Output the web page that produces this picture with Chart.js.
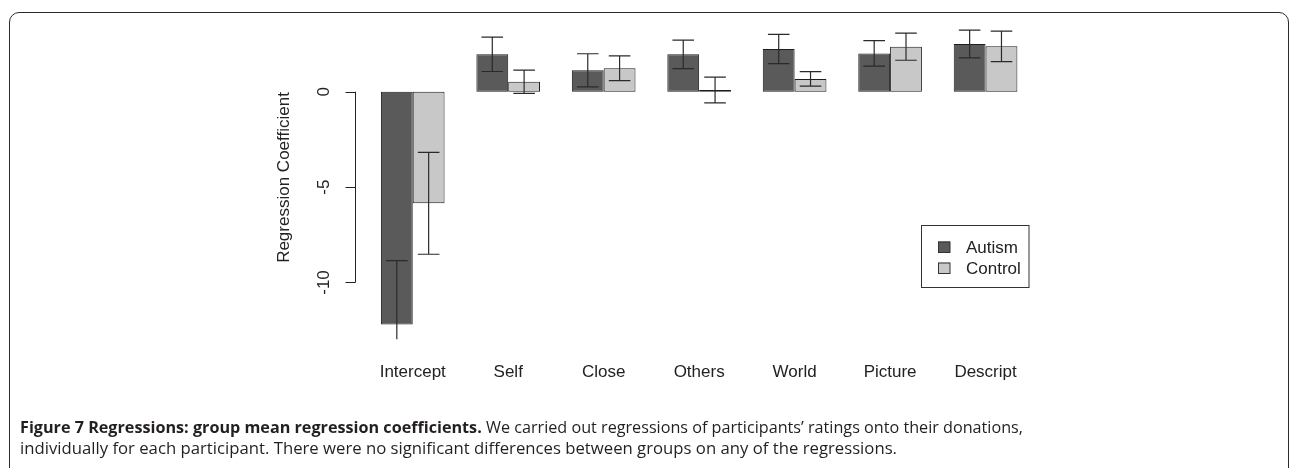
<!DOCTYPE html>
<html>
<head>
<meta charset="utf-8">
<script src="https://cdn.jsdelivr.net/npm/chart.js@4/dist/chart.umd.min.js"></script>
<style>
  html, body { margin:0; padding:0; background:#fff; width:1295px; height:468px; overflow:hidden; }
  #wrap { position:relative; width:1295px; height:468px; }
  #c { position:absolute; left:0; top:0; }
  #frame { position:absolute; left:9px; top:12px; width:1280px; height:520px; border:1.5px solid #2b2b2b; border-radius:10px; box-sizing:border-box; }
  .cap { position:absolute; left:20px; white-space:nowrap; font-family:"Open Sans","Noto Sans",sans-serif; font-size:16.5px; color:#231f20; transform-origin:0 0; line-height:1; }
  .cap b { font-weight:700; }
</style>
</head>
<body>
<div id="wrap">
  <div id="frame"></div>
  <canvas id="c" width="1295" height="468"></canvas>
  <div class="cap" id="cap1" data-w="1003"><b>Figure 7 Regressions: group mean regression coefficients.</b> We carried out regressions of participants’ ratings onto their donations,</div>
  <div class="cap" id="cap2" data-w="877">individually for each participant. There were no significant differences between groups on any of the regressions.</div>
</div>
<script>
const categories = ['Intercept', 'Self', 'Close', 'Others', 'World', 'Picture', 'Descript'];
const autism     = [-12.2, 1.96, 1.12, 1.96, 2.24, 2.01, 2.50];
const autismErr  = [3.34, 0.90, 0.87, 0.75, 0.77, 0.67, 0.73];
const control    = [-5.85, 0.52, 1.23, 0.09, 0.67, 2.36, 2.38];
const controlErr = [2.67, 0.61, 0.65, 0.68, 0.38, 0.71, 0.80];
const yTicks     = [0, -5, -10];
const seriesNames = ['Autism', 'Control'];

const FONT = '"Liberation Sans", Arial, sans-serif';
const AUT_COLOR = '#5a5a5a';
const CTL_COLOR = '#c8c8c8';
const INK = '#222222';

const errors = [autismErr, controlErr];

const customDraw = {
  id: 'customDraw',
  afterDatasetsDraw(chart) {
    const ctx = chart.ctx;
    const ca = chart.chartArea;
    const y = chart.scales.y;
    ctx.save();
    ctx.beginPath();
    ctx.rect(ca.left - 2, ca.top, ca.right - ca.left + 4, ca.bottom - ca.top);
    ctx.clip();
    ctx.strokeStyle = '#2a2a2a';
    ctx.lineWidth = 1.2;
    chart.data.datasets.forEach((ds, di) => {
      const meta = chart.getDatasetMeta(di);
      meta.data.forEach((bar, i) => {
        const v = ds.data[i];
        const e = errors[di][i];
        const x = bar.x;
        const yHi = y.getPixelForValue(v + e);
        const yLo = y.getPixelForValue(v - e);
        const hw = 10.8;
        ctx.beginPath();
        ctx.moveTo(x, yHi); ctx.lineTo(x, yLo);
        ctx.moveTo(x - hw, yHi); ctx.lineTo(x + hw, yHi);
        ctx.moveTo(x - hw, yLo); ctx.lineTo(x + hw, yLo);
        ctx.stroke();
      });
    });
    ctx.restore();
  },
  afterDraw(chart) {
    const ctx = chart.ctx;
    const y = chart.scales.y;
    const x = chart.scales.x;
    ctx.save();
    // y axis (R style)
    const axX = 355.5;
    ctx.strokeStyle = INK;
    ctx.lineWidth = 1;
    ctx.beginPath();
    ctx.moveTo(axX, y.getPixelForValue(Math.max(...yTicks)));
    ctx.lineTo(axX, y.getPixelForValue(Math.min(...yTicks)));
    yTicks.forEach(t => {
      const py = Math.round(y.getPixelForValue(t)) + 0.5;
      ctx.moveTo(axX, py); ctx.lineTo(axX - 10, py);
    });
    ctx.stroke();
    ctx.fillStyle = INK;
    ctx.font = '17px ' + FONT;
    ctx.textAlign = 'center';
    ctx.textBaseline = 'middle';
    yTicks.forEach(t => {
      ctx.save();
      ctx.translate(323.5, y.getPixelForValue(t));
      ctx.rotate(-Math.PI / 2);
      ctx.fillText(String(t), 0, 1);
      ctx.restore();
    });
    // y title
    ctx.save();
    ctx.translate(284, 177.5);
    ctx.rotate(-Math.PI / 2);
    ctx.fillText('Regression Coefficient', 0, 0);
    ctx.restore();
    // category labels
    categories.forEach((c, i) => {
      ctx.fillText(c, x.getPixelForValue(i), 372);
    });
    // legend
    ctx.lineWidth = 1;
    ctx.strokeStyle = '#333';
    ctx.strokeRect(921.5, 225.5, 107.5, 62);
    const cols = [AUT_COLOR, CTL_COLOR];
    const rowsY = [247, 268];
    ctx.textAlign = 'left';
    seriesNames.forEach((n, i) => {
      ctx.fillStyle = cols[i];
      ctx.fillRect(938, rowsY[i] - 5.5, 12, 11);
      ctx.strokeStyle = '#333';
      ctx.strokeRect(938.5, rowsY[i] - 5, 11.5, 10.5);
      ctx.fillStyle = INK;
      ctx.fillText(n, 966, rowsY[i] + 1);
    });
    ctx.restore();
  }
};

new Chart(document.getElementById('c'), {
  type: 'bar',
  data: {
    labels: categories,
    datasets: [
      { label: seriesNames[0], data: autism, backgroundColor: AUT_COLOR, borderColor: '#1e1e1e', borderWidth: 1, borderSkipped: false },
      { label: seriesNames[1], data: control, backgroundColor: CTL_COLOR, borderColor: '#1e1e1e', borderWidth: 1, borderSkipped: false }
    ]
  },
  options: {
    responsive: false,
    devicePixelRatio: 1,
    animation: false,
    layout: { padding: { left: 365, right: 261.7, top: 20, bottom: 128.7 } },
    datasets: { bar: { categoryPercentage: 2/3, barPercentage: 1 } },
    plugins: { legend: { display: false }, tooltip: { enabled: false }, title: { display: false } },
    scales: {
      x: { display: false, offset: true },
      y: { display: false, min: -12.98, max: 3.76 }
    }
  },
  plugins: [customDraw]
});

// fit caption lines to reference widths
document.querySelectorAll('.cap').forEach(el => {
  const target = parseFloat(el.dataset.w);
  const w = el.getBoundingClientRect().width;
  el.style.transform = 'scaleX(' + (target / w) + ')';
});
document.getElementById('cap1').style.top = '419px';
document.getElementById('cap2').style.top = '440px';
</script>
</body>
</html>
